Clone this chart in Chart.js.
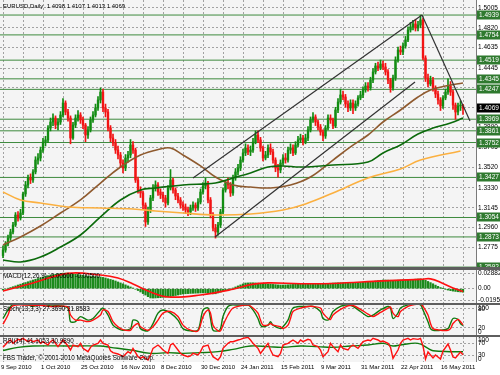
<!DOCTYPE html>
<html>
<head>
<meta charset="utf-8">
<script src="https://cdn.jsdelivr.net/npm/chart.js@4.4.1/dist/chart.umd.min.js"></script>
<style>
body { margin: 0; background: #fff; }
#wrap { position: relative; width: 500px; height: 375px; background: #5e5e5e; overflow: hidden; font-family: "Liberation Sans", Arial, sans-serif; }
canvas { position: absolute; left: 0; }
.lbl { position: absolute; left: 3px; font-size: 6.3px; line-height: 8px; color: #000; white-space: pre; }
</style>
</head>
<body>
<div id="wrap">
  <canvas id="main" width="500" height="267" style="top:0"></canvas>
  <canvas id="macd" width="500" height="33" style="top:270px"></canvas>
  <canvas id="stoch" width="500" height="30" style="top:305px"></canvas>
  <canvas id="rsi" width="500" height="38" style="top:337px"></canvas>
  <div class="lbl" style="top:2px;font-size:6px">EURUSD,Daily  1.4098 1.4107 1.4013 1.4069</div>
  <div class="lbl" style="top:272px">MACD(12,26,9) -0.00600 -0.00500</div>
  <div class="lbl" style="top:305px">Stoch(13,3,3) 27.3690 21.8583</div>
  <div class="lbl" style="top:337px">RSI(14) 41.1053 30.9890</div>
  <div class="lbl" style="top:354px">FBS Trader, © 2001-2010 MetaQuotes Software Corp.</div>
</div>
<script>
// daily EURUSD bars, 9 Sep 2010 .. late May 2011 (open = previous close)
var firstOpen = 1.2700;
var closes = [
  1.2751,1.2807,1.2863,1.2919,1.2984,1.3077,1.3049,1.3096,1.3273,1.3357,
  1.3422,1.3403,1.3478,1.3589,1.3608,1.3682,1.3757,1.3776,1.3887,1.3943,
  1.3980,1.3915,1.3943,1.4008,1.4120,1.4036,1.3980,1.3794,1.3915,1.3980,
  1.4008,1.3962,1.3915,1.3822,1.3869,1.3962,1.4008,1.4074,1.4148,1.4222,
  1.4074,1.4036,1.3887,1.3794,1.3748,1.3682,1.3636,1.3561,1.3515,1.3608,
  1.3636,1.3729,1.3682,1.3403,1.3310,1.3282,1.3170,1.3012,1.3124,1.3236,
  1.3329,1.3357,1.3291,1.3264,1.3236,1.3189,1.3329,1.3403,1.3310,1.3254,
  1.3217,1.3170,1.3152,1.3124,1.3105,1.3143,1.3170,1.3143,1.3198,1.3291,
  1.3347,1.3375,1.3217,1.3077,1.2956,1.2919,1.2984,1.3105,1.3310,1.3375,
  1.3357,1.3282,1.3422,1.3478,1.3515,1.3589,1.3655,1.3701,1.3664,1.3682,
  1.3757,1.3822,1.3776,1.3701,1.3608,1.3636,1.3701,1.3664,1.3589,1.3515,
  1.3496,1.3561,1.3608,1.3589,1.3682,1.3701,1.3655,1.3729,1.3776,1.3794,
  1.3757,1.3794,1.3869,1.3962,1.3990,1.3943,1.3897,1.3850,1.3813,1.3887,
  1.3980,1.3962,1.3906,1.4055,1.4129,1.4195,1.4176,1.4111,1.4074,1.4120,
  1.4074,1.4111,1.4167,1.4195,1.4241,1.4278,1.4260,1.4334,1.4409,1.4465,
  1.4446,1.4483,1.4455,1.4409,1.4334,1.4260,1.4353,1.4520,1.4613,1.4595,
  1.4651,1.4707,1.4800,1.4828,1.4856,1.4818,1.4846,1.4893,1.4539,1.4353,
  1.4297,1.4334,1.4260,1.4204,1.4148,1.4092,1.4167,1.4222,1.4278,1.4222,
  1.4101,1.4036,1.4092,1.4098,1.4069
];
var highs = [
  1.2790,1.2830,1.2890,1.2945,1.3010,1.3100,1.3110,1.3130,1.3290,1.3390,
  1.3450,1.3460,1.3500,1.3620,1.3650,1.3710,1.3790,1.3810,1.3910,1.3980,
  1.4020,1.4000,1.3975,1.4040,1.4160,1.4140,1.4060,1.4000,1.3940,1.4010,
  1.4050,1.4030,1.3990,1.3930,1.3900,1.3990,1.4040,1.4110,1.4180,1.4260,
  1.4250,1.4110,1.4060,1.3910,1.3830,1.3780,1.3720,1.3660,1.3590,1.3640,
  1.3670,1.3780,1.3760,1.3700,1.3430,1.3340,1.3300,1.3190,1.3150,1.3260,
  1.3360,1.3395,1.3380,1.3320,1.3290,1.3260,1.3350,1.3500,1.3420,1.3330,
  1.3280,1.3240,1.3200,1.3180,1.3150,1.3170,1.3200,1.3190,1.3230,1.3320,
  1.3380,1.3420,1.3390,1.3240,1.3100,1.2990,1.3010,1.3130,1.3330,1.3400,
  1.3420,1.3380,1.3450,1.3510,1.3550,1.3620,1.3690,1.3740,1.3730,1.3720,
  1.3790,1.3860,1.3862,1.3800,1.3720,1.3670,1.3730,1.3740,1.3690,1.3610,
  1.3550,1.3590,1.3640,1.3650,1.3710,1.3740,1.3730,1.3760,1.3810,1.3830,
  1.3820,1.3830,1.3900,1.3990,1.4030,1.4010,1.3960,1.3920,1.3870,1.3910,
  1.4010,1.4010,1.3980,1.4080,1.4160,1.4250,1.4230,1.4200,1.4140,1.4150,
  1.4150,1.4140,1.4190,1.4230,1.4270,1.4310,1.4310,1.4360,1.4440,1.4490,
  1.4500,1.4520,1.4510,1.4490,1.4430,1.4350,1.4380,1.4550,1.4640,1.4650,
  1.4680,1.4740,1.4830,1.4870,1.4890,1.4900,1.4880,1.4939,1.4910,1.4560,
  1.4390,1.4370,1.4360,1.4280,1.4230,1.4170,1.4190,1.4250,1.4345,1.4320,
  1.4240,1.4120,1.4120,1.4140,1.4107
];
var lows = [
  1.2680,1.2730,1.2790,1.2840,1.2900,1.2970,1.3020,1.3030,1.3080,1.3250,
  1.3330,1.3370,1.3380,1.3460,1.3550,1.3580,1.3660,1.3720,1.3750,1.3860,
  1.3910,1.3880,1.3870,1.3920,1.3990,1.4010,1.3950,1.3740,1.3780,1.3890,
  1.3950,1.3930,1.3880,1.3760,1.3790,1.3850,1.3940,1.3990,1.4050,1.4120,
  1.4040,1.3990,1.3860,1.3760,1.3720,1.3650,1.3600,1.3520,1.3470,1.3490,
  1.3570,1.3610,1.3650,1.3380,1.3280,1.3240,1.3130,1.2970,1.2990,1.3100,
  1.3210,1.3300,1.3260,1.3230,1.3200,1.3150,1.3170,1.3310,1.3280,1.3220,
  1.3190,1.3140,1.3120,1.3090,1.3070,1.3080,1.3120,1.3110,1.3120,1.3180,
  1.3270,1.3320,1.3190,1.3050,1.2930,1.2862,1.2890,1.2960,1.3090,1.3290,
  1.3320,1.3250,1.3260,1.3400,1.3450,1.3490,1.3570,1.3630,1.3640,1.3630,
  1.3660,1.3740,1.3750,1.3670,1.3580,1.3590,1.3610,1.3640,1.3560,1.3480,
  1.3430,1.3470,1.3540,1.3560,1.3570,1.3650,1.3630,1.3640,1.3710,1.3750,
  1.3730,1.3740,1.3770,1.3850,1.3940,1.3910,1.3870,1.3820,1.3770,1.3790,
  1.3870,1.3930,1.3880,1.3890,1.4030,1.4110,1.4150,1.4080,1.4040,1.4050,
  1.4020,1.4050,1.4090,1.4150,1.4170,1.4220,1.4230,1.4240,1.4310,1.4390,
  1.4420,1.4430,1.4430,1.4380,1.4300,1.4220,1.4240,1.4330,1.4500,1.4570,
  1.4570,1.4630,1.4690,1.4780,1.4800,1.4790,1.4790,1.4820,1.4520,1.4320,
  1.4270,1.4280,1.4230,1.4170,1.4110,1.4050,1.4070,1.4150,1.4200,1.4190,
  1.4060,1.3969,1.4010,1.4050,1.4013
];

// moving averages (bar index, price)
var maBrownIdx = [0,7,15,23,31,39,47,55,63,67,72,79,85,92,99,107,115,123,132,139,146,152,159,166,171,177,184];
var maBrown = [1.2798,1.2873,1.2975,1.3096,1.3217,1.3375,1.3524,1.3636,1.3692,1.3701,1.3636,1.3534,1.3431,1.3357,1.3338,1.3329,1.3357,1.3431,1.3589,1.3711,1.3822,1.3943,1.4055,1.4176,1.4241,1.4278,1.4306];
var maGreenIdx = [0,7,15,23,31,39,47,55,61,72,85,92,99,106,112,119,132,146,152,159,166,172,179,184];
var maGreen = [1.2658,1.2640,1.2686,1.2779,1.2891,1.3059,1.3217,1.3310,1.3329,1.3357,1.3375,1.3422,1.3468,1.3524,1.3534,1.3524,1.3543,1.3571,1.3655,1.3729,1.3831,1.3887,1.3934,1.3980];
var maOrangeIdx = [0,7,15,26,39,52,61,72,85,99,112,121,132,146,159,167,183];
var maOrange = [1.3292,1.3217,1.3189,1.3152,1.3143,1.3133,1.3115,1.3096,1.3077,1.3087,1.3124,1.3180,1.3282,1.3422,1.3506,1.3589,1.3673];

// trend lines: [bar, price] end points
var channelTop = [[76, 1.3422], [167.6, 1.4939]];
var channelBottom = [[84.8, 1.2873], [164.8, 1.4316]];
var fallLine = [[167.6, 1.4939], [186.8, 1.3952]];

var levels = [1.4939,1.4754,1.4519,1.4345,1.4247,1.3969,1.3861,1.3752,1.3427,1.3054,1.2873,1.2592];
var priceTicks = [1.5005,1.4820,1.4635,1.4445,1.4260,1.4075,1.3890,1.3705,1.3520,1.3330,1.3145,1.2960,1.2775,1.2590];
var dateLabels = ['9 Sep 2010','1 Oct 2010','25 Oct 2010','16 Nov 2010','8 Dec 2010','30 Dec 2010',
  '24 Jan 2011','15 Feb 2011','9 Mar 2011','31 Mar 2011','22 Apr 2011','16 May 2011'];

var macdHist = [
  -0.0023,-0.0008,0.0005,0.0020,0.0034,0.0048,0.0064,0.0078,0.0092,0.0106,
  0.0120,0.0135,0.0150,0.0163,0.0176,0.0189,0.0201,0.0213,0.0225,0.0236,
  0.0243,0.0250,0.0256,0.0262,0.0268,0.0270,0.0271,0.0262,0.0256,0.0250,
  0.0244,0.0236,0.0230,0.0222,0.0218,0.0215,0.0212,0.0210,0.0206,0.0202,
  0.0195,0.0185,0.0172,0.0160,0.0148,0.0133,0.0116,0.0100,0.0083,0.0066,
  0.0048,0.0030,0.0012,-0.0010,-0.0032,-0.0057,-0.0085,-0.0110,-0.0138,-0.0160,
  -0.0162,-0.0160,-0.0157,-0.0155,-0.0150,-0.0147,-0.0143,-0.0135,-0.0126,-0.0118,
  -0.0109,-0.0100,-0.0091,-0.0088,-0.0085,-0.0082,-0.0080,-0.0078,-0.0076,-0.0074,
  -0.0072,-0.0072,-0.0078,-0.0085,-0.0090,-0.0088,-0.0074,-0.0060,-0.0045,-0.0030,
  -0.0015,-0.0002,0.0012,0.0030,0.0048,0.0065,0.0082,0.0098,0.0100,0.0102,
  0.0102,0.0100,0.0096,0.0092,0.0088,0.0084,0.0081,0.0078,0.0074,0.0070,
  0.0066,0.0064,0.0064,0.0066,0.0068,0.0071,0.0074,0.0077,0.0079,0.0081,
  0.0082,0.0083,0.0084,0.0082,0.0080,0.0080,0.0081,0.0084,0.0087,0.0090,
  0.0092,0.0095,0.0098,0.0100,0.0102,0.0103,0.0102,0.0100,0.0098,0.0098,
  0.0100,0.0102,0.0105,0.0108,0.0110,0.0113,0.0116,0.0122,0.0128,0.0134,
  0.0140,0.0145,0.0150,0.0150,0.0148,0.0146,0.0145,0.0146,0.0148,0.0150,
  0.0152,0.0154,0.0155,0.0158,0.0162,0.0165,0.0168,0.0170,0.0160,0.0145,
  0.0125,0.0105,0.0085,0.0062,0.0040,0.0020,0.0002,-0.0012,-0.0024,-0.0034,
  -0.0042,-0.0048,-0.0053,-0.0057,-0.0060
];
var macdSignalIdx = [0,12,26,39,46,52,59,66,79,92,99,106,119,132,152,167,171,176,180,184];
var macdSignal = [-0.0040,0.0098,0.0265,0.0236,0.0185,0.0081,-0.0057,-0.0143,-0.0109,-0.0010,0.0070,0.0100,0.0085,0.0090,0.0135,0.0160,0.0170,0.0090,0.0010,-0.0050];
var macdTicks = [0.02882, 0, -0.01954];
var macdTickText = ['0.02882', '0.00', '-0.01954'];

var stochIdx = [0,2,3,4,7,10,12,15,19,23,26,27,29,31,34,36,39,40,42,44,46,48,51,52,54,55,58,60,62,64,67,70,72,75,78,80,82,83,84,86,87,88,90,92,95,98,100,102,103,104,106,107,108,111,112,114,115,116,119,122,124,127,128,130,131,132,135,138,140,143,146,148,151,154,155,156,158,159,162,164,167,168,170,171,172,175,178,179,180,182,183,184];
var stochMain = [50,77,88,93,96,93,88,96,90,90,83,40,40,56,45,50,77,83,61,29,18,13,18,45,40,18,11,34,67,77,67,45,18,11,13,77,83,50,13,11,18,56,88,93,93,93,77,50,29,24,29,40,29,18,24,45,67,83,88,88,88,72,50,45,56,72,88,93,88,72,56,61,77,88,83,50,67,83,93,97,93,77,40,18,13,13,18,34,50,47,34,27.4];
var stochSignal = [32,61,83,90,93,93,91,92,88,89,86,61,45,45,40,45,61,77,72,40,24,15,13,24,34,24,13,24,45,67,72,56,29,13,11,56,77,67,29,11,11,29,61,83,90,93,83,67,45,29,29,34,29,24,18,29,50,72,83,88,88,83,67,50,47,61,79,90,91,79,64,56,69,83,86,67,56,72,88,93,96,88,61,34,18,13,13,18,34,47,40,30];
var stochTicks = [100, 80, 20, 0];

var rsiIdx = [0,2,3,4,6,7,8,10,11,12,14,15,16,18,19,20,22,23,24,26,27,28,30,31,32,34,35,36,38,39,40,42,43,44,46,47,48,50,51,52,54,55,56,58,59,60,62,63,64,66,67,68,70,71,72,74,75,76,78,79,80,82,83,84,86,87,88,90,91,92,94,95,96,98,99,100,102,103,104,106,107,108,110,111,112,114,115,116,118,119,120,122,123,124,126,127,128,130,131,132,134,135,136,138,139,140,142,143,144,146,147,148,150,151,152,154,155,156,158,159,160,162,163,164,166,167,168,169,170,172,173,175,176,178,179,180,181,183,184];
var rsiLine = [55.6,74.4,80,68.9,82.2,80,85.6,74.4,80,74.4,80,68.9,74.4,63.3,74.4,80,57.8,68.9,80,60,46.7,63.3,57.8,68.9,52.2,41.1,55.6,63.3,68.9,80,68.9,63.3,44.4,37.8,33.3,30,24.4,41.1,35.6,52.2,24.4,18.9,24.4,13.3,30,52.2,63.3,55.6,46.7,35.6,63.3,68.9,46.7,35.6,30,24.4,26.7,35.6,30,41.1,57.8,63.3,41.1,24.4,13.3,24.4,52.2,68.9,74.4,74.4,80,82.2,85.6,88.9,80,68.9,52.2,35.6,46.7,68.9,46.7,30,24.4,35.6,63.3,68.9,74.4,80,68.9,80,74.4,82.2,80,63.3,57.8,46.7,24.4,41.1,68.9,57.8,41.1,63.3,52.2,46.7,57.8,63.3,52.2,63.3,74.4,80,77.8,85.6,80,74.4,76.7,68.9,55.6,18.9,46.7,68.9,80,85.6,80,84.4,82.2,85.6,60,16.7,40,20,30,16.7,43,66.7,46.7,23.3,20,40,31];
var rsiAvgIdx = [0,6,12,26,39,43,51,59,66,72,79,86,92,99,106,112,119,126,132,139,146,152,156,159,166,170,172,179,184];
var rsiAvg = [45,55.6,60,60,60,55.6,46.7,35.6,37.8,35.6,37.8,41.1,48.9,60,57.8,55.6,60,57.8,55.6,60,63.3,68.9,60,63.3,68.9,52.2,44.4,41.1,41.1];
var rsiTicks = [100, 70, 30, 0];

var FONT = '"Liberation Sans", Arial, sans-serif';
var GRID = '#a2a2a2';
var PLOT_BG = '#f4f4f4';
var UP = '#128c12', DOWN = '#f21414', LEVEL = '#3d8a3d', TAG = '#2f7a2f';
var X_MIN = -1.2, X_MAX = 189.2, AXIS_W = 24;

Chart.defaults.font.family = FONT;
Chart.defaults.font.size = 6.5;
Chart.defaults.color = '#000';
Chart.defaults.animation = false;
Chart.defaults.plugins.legend.display = false;
Chart.defaults.plugins.tooltip.enabled = false;

var opens = [firstOpen].concat(closes.slice(0, -1));
var barIdx = closes.map(function (c, i) { return i; });
var candleColors = closes.map(function (c, i) { return c >= opens[i] ? UP : DOWN; });
var gridBars = [];
for (var g = 0; g <= 184; g += 8) gridBars.push(g);

function pts(idx, vals) {
  return idx.map(function (x, k) { return { x: x, y: vals[k] }; });
}

var panelBg = {
  id: 'panelBg',
  beforeDraw: function (chart) {
    var ctx = chart.ctx, a = chart.chartArea;
    ctx.save();
    ctx.fillStyle = '#fff';
    ctx.fillRect(0, 0, chart.width, chart.height);
    ctx.fillStyle = PLOT_BG;
    ctx.fillRect(a.left, a.top, a.right - a.left, a.bottom - a.top);
    ctx.restore();
  },
  afterDraw: function (chart) {
    var ctx = chart.ctx, a = chart.chartArea;
    ctx.save();
    ctx.strokeStyle = '#7a7a7a';
    ctx.lineWidth = 1;
    ctx.beginPath();
    ctx.moveTo(a.right + 0.5, 0);
    ctx.lineTo(a.right + 0.5, a.bottom);
    ctx.stroke();
    ctx.restore();
  }
};

function drawTag(ctx, x, y, text, fill) {
  ctx.fillStyle = fill;
  ctx.fillRect(x, Math.round(y) - 4.5, AXIS_W - 1, 9);
  ctx.fillStyle = '#fff';
  ctx.fillText(text, x + 2, Math.round(y));
}

var levelTags = {
  id: 'levelTags',
  afterDraw: function (chart) {
    var ctx = chart.ctx, a = chart.chartArea, y = chart.scales.y;
    ctx.save();
    ctx.font = '6.5px ' + FONT;
    ctx.textBaseline = 'middle';
    levels.forEach(function (v) { drawTag(ctx, a.right + 1, y.getPixelForValue(v), v.toFixed(4), TAG); });
    var last = closes[closes.length - 1];
    drawTag(ctx, a.right + 1, y.getPixelForValue(last), last.toFixed(4), '#000');
    ctx.restore();
  }
};

function xAxis(showLabels) {
  return {
    type: 'linear', min: X_MIN, max: X_MAX, offset: false,
    afterBuildTicks: function (s) { s.ticks = gridBars.map(function (v) { return { value: v }; }); },
    grid: { color: GRID, drawTicks: false, offset: false },
    border: { display: false, dash: [2, 2] },
    ticks: {
      display: showLabels, autoSkip: false, maxRotation: 0, align: 'start', padding: 2, labelOffset: -2,
      font: { size: 6 },
      callback: function (v) { return v % 16 === 0 ? dateLabels[v / 16] : ''; }
    },
    afterFit: function (s) {
      s.height = showLabels ? 13 : 0;
      s.paddingLeft = 0; s.paddingRight = 0;
    }
  };
}

function rightAxis(min, max, extra) {
  var ax = {
    position: 'right', min: min, max: max,
    grid: { color: GRID, drawTicks: false },
    border: { display: false, dash: [2, 2] },
    ticks: { autoSkip: false, padding: 2 },
    afterFit: function (s) { s.width = AXIS_W; s.paddingTop = 0; s.paddingBottom = 0; }
  };
  return Object.assign(ax, extra);
}

// MT4 keeps level captions inside the panel even if the level lies outside it
function panelTicks(values, texts) {
  return function (s) {
    var h = (s.bottom - s.top) || s.height || 30;
    var m = 3 * (s.max - s.min) / h;
    s.ticks = values.map(function (v, k) {
      var c = Math.min(s.max - m, Math.max(s.min + m, v));
      return { value: c, text: texts[k], line: c === v };
    });
  };
}
function tickText(v, i, ticks) { return ticks[i].text; }
function levelGrid(ctx) { return ctx.tick && ctx.tick.line ? GRID : 'rgba(0,0,0,0)'; }

function lineSet(data, color, width, tension, order) {
  return { type: 'line', data: data, borderColor: color, borderWidth: width, pointRadius: 0, tension: tension, order: order };
}

// main price panel
var mainSets = levels.map(function (v) {
  return lineSet([{ x: X_MIN, y: v }, { x: X_MAX, y: v }], LEVEL, 1, 0, 10);
});
mainSets.push({
  type: 'bar', grouped: false, order: 4, barThickness: 1, borderWidth: 0,
  data: barIdx.map(function (i) { return { x: i, y: [lows[i], highs[i]] }; }),
  backgroundColor: candleColors
});
mainSets.push({
  type: 'bar', grouped: false, order: 3, barThickness: 1.7, minBarLength: 1, borderWidth: 0,
  data: barIdx.map(function (i) { return { x: i, y: [opens[i], closes[i]] }; }),
  backgroundColor: candleColors
});
mainSets.push(lineSet(pts(maOrangeIdx, maOrange), '#fbb040', 1.6, 0.4, 2));
mainSets.push(lineSet(pts(maGreenIdx, maGreen), '#0b6a0b', 1.6, 0.4, 2));
mainSets.push(lineSet(pts(maBrownIdx, maBrown), '#8f5a2e', 1.6, 0.4, 2));
[channelTop, channelBottom, fallLine].forEach(function (seg) {
  mainSets.push(lineSet(seg.map(function (p) { return { x: p[0], y: p[1] }; }), '#333333', 1.2, 0, 1));
});

new Chart(document.getElementById('main'), {
  type: 'bar',
  data: { datasets: mainSets },
  options: {
    responsive: false, devicePixelRatio: 1, events: [],
    layout: { padding: 0 },
    scales: {
      x: xAxis(false),
      y: rightAxis(1.2593, 1.5079, {
        afterBuildTicks: function (s) { s.ticks = priceTicks.map(function (v) { return { value: v }; }); },
        ticks: { autoSkip: false, padding: 2, callback: function (v) { return v.toFixed(4); } }
      })
    }
  },
  plugins: [panelBg, levelTags]
});

// MACD panel
new Chart(document.getElementById('macd'), {
  type: 'bar',
  data: {
    datasets: [
      { type: 'bar', order: 2, barThickness: 1.6, borderWidth: 0, backgroundColor: '#1c8a1c',
        data: barIdx.map(function (i) { return { x: i, y: macdHist[i] }; }) },
      lineSet(pts(macdSignalIdx, macdSignal), '#ff1010', 1.6, 0.4, 1)
    ]
  },
  options: {
    responsive: false, devicePixelRatio: 1, events: [],
    layout: { padding: 0 },
    scales: {
      x: xAxis(false),
      y: rightAxis(-0.02472, 0.03227, {
        afterBuildTicks: panelTicks(macdTicks, macdTickText),
        ticks: { autoSkip: false, padding: 2, callback: tickText }
      })
    }
  },
  plugins: [panelBg]
});

// Stochastic panel
new Chart(document.getElementById('stoch'), {
  type: 'line',
  data: {
    datasets: [
      lineSet(pts(stochIdx, stochMain), '#0f7a0f', 1.4, 0.3, 2),
      lineSet(pts(stochIdx, stochSignal), '#ff1010', 1.4, 0.3, 1)
    ]
  },
  options: {
    responsive: false, devicePixelRatio: 1, events: [],
    layout: { padding: 0 },
    scales: {
      x: xAxis(false),
      y: rightAxis(-2.1, 92.6, {
        afterBuildTicks: panelTicks(stochTicks, ['100', '80', '20', '0']),
        ticks: { autoSkip: false, padding: 2, callback: tickText },
        grid: { color: levelGrid, drawTicks: false }
      })
    }
  },
  plugins: [panelBg]
});

// RSI panel with the date axis
new Chart(document.getElementById('rsi'), {
  type: 'line',
  data: {
    datasets: [
      lineSet(pts(rsiAvgIdx, rsiAvg), '#0f7a0f', 1.4, 0.4, 2),
      lineSet(pts(rsiIdx, rsiLine), '#ff1010', 1.4, 0, 1)
    ]
  },
  options: {
    responsive: false, devicePixelRatio: 1, events: [],
    layout: { padding: 0 },
    scales: {
      x: xAxis(true),
      y: rightAxis(6.7, 90, {
        afterBuildTicks: panelTicks(rsiTicks, ['100', '70', '30', '0']),
        ticks: { autoSkip: false, padding: 2, callback: tickText },
        grid: { color: levelGrid, drawTicks: false }
      })
    }
  },
  plugins: [panelBg]
});
</script>
</body>
</html>
